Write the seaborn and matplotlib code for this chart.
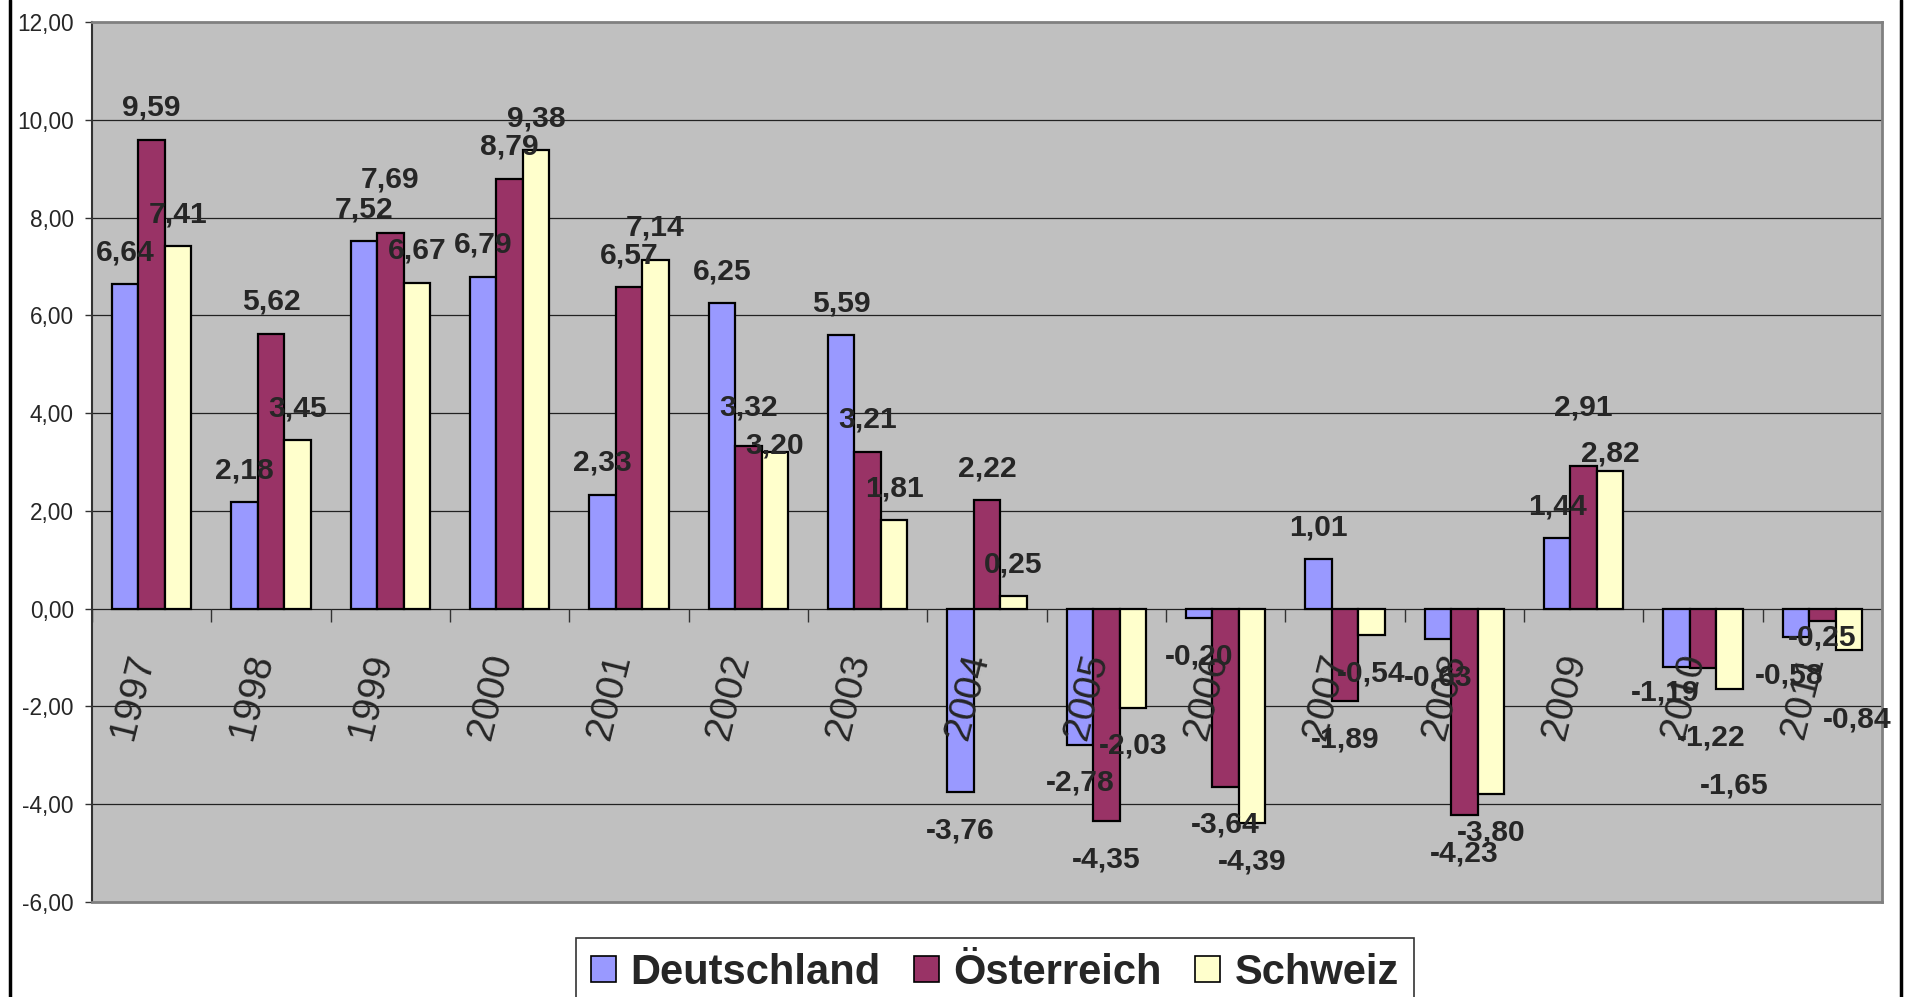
import matplotlib
matplotlib.use("Agg")
import matplotlib.pyplot as plt
import numpy as np
import pandas as pd
import seaborn as sns
from matplotlib.lines import Line2D
from matplotlib.patches import Patch

years = ["1997", "1998", "1999", "2000", "2001", "2002", "2003", "2004",
         "2005", "2006", "2007", "2008", "2009", "2010", "2011"]
countries = ["Deutschland", "Österreich", "Schweiz"]
deutschland = [6.64, 2.18, 7.52, 6.79, 2.33, 6.25, 5.59, -3.76,
               -2.78, -0.20, 1.01, -0.63, 1.44, -1.19, -0.58]
oesterreich = [9.59, 5.62, 7.69, 8.79, 6.57, 3.32, 3.21, 2.22,
               -4.35, -3.64, -1.89, -4.23, 2.91, -1.22, -0.25]
schweiz = [7.41, 3.45, 6.67, 9.38, 7.14, 3.20, 1.81, 0.25,
           -2.03, -4.39, -0.54, -3.80, 2.82, -1.65, -0.84]
y_ticks = [-6, -4, -2, 0, 2, 4, 6, 8, 10, 12]

colors = ["#9999FF", "#993366", "#FFFFCC"]
series = [deutschland, oesterreich, schweiz]

# labels the original chart shifted to dodge each other (dx, dy in pixels, dy down)
label_nudge = {
    ("Österreich", "1999"): (0, -21),
    ("Österreich", "2002"): (0, -7),
    ("Schweiz", "2002"): (0, 25),
    ("Österreich", "2009"): (0, -27),
    ("Schweiz", "2009"): (0, 15),
    ("Deutschland", "2010"): (-11, -12),
    ("Österreich", "2010"): (8, 31),
    ("Schweiz", "2010"): (5, 58),
    ("Deutschland", "2011"): (-7, 0),
    ("Österreich", "2011"): (0, -21),
    ("Schweiz", "2011"): (8, 32),
}

df = pd.DataFrame({
    "year": years * 3,
    "country": np.repeat(countries, len(years)),
    "value": deutschland + oesterreich + schweiz,
})


def de_fmt(v):
    return f"{v:.2f}".replace(".", ",")


sns.set_style("white")
plt.rcParams["font.family"] = ["Liberation Sans", "DejaVu Sans"]

fig = plt.figure(figsize=(19.05, 9.97), dpi=100)
ax = fig.add_axes([92 / 1905, 1 - 902 / 997, 1790 / 1905, 880 / 997])
ax.set_facecolor("#C0C0C0")

sns.barplot(
    data=df, x="year", y="value", hue="country", palette=colors,
    width=0.667, saturation=1, edgecolor="black", linewidth=1.6,
    legend=False, ax=ax, zorder=3,
)

ax.set_xlim(-0.5, len(years) - 0.5)
ax.set_ylim(-6, 12)
ax.set_yticks(y_ticks)
ax.set_yticklabels([de_fmt(t) for t in y_ticks], fontsize=16.3)
ax.tick_params(axis="y", direction="out", length=5, width=1, color="#333333",
               pad=8, left=True)
ax.set_xticks([])
ax.set_xlabel("")
ax.set_ylabel("")

# gridlines
for t in y_ticks[1:-1]:
    ax.axhline(t, color="#222222", lw=0.9, zorder=1)

# category axis ticks at the boundaries, hanging below zero
bounds = np.arange(len(years) + 1) - 0.5
ax.vlines(bounds, -0.27, 0, color="#333333", lw=1, zorder=2)

for name in ["top", "right", "bottom"]:
    ax.spines[name].set_color("#808080")
    ax.spines[name].set_linewidth(2)
ax.spines["left"].set_color("#333333")
ax.spines["left"].set_linewidth(1.5)

# year labels
for i, y in enumerate(years):
    ax.text(i - 0.16, -1.8, y, rotation=76, ha="center", va="center",
            fontsize=28, zorder=6)

# data labels
for cont, vals, country in zip(ax.containers, series, countries):
    for bar, v, year in zip(cont, vals, years):
        cx = bar.get_x() + bar.get_width() / 2
        off = 24 if v >= 0 else -46
        dx, dy = label_nudge.get((country, year), (0, 0))
        ax.annotate(de_fmt(v), (cx, v), xytext=(dx, off - dy),
                    textcoords="offset pixels", ha="center", va="baseline",
                    fontsize=21.6, fontweight="bold", zorder=7)

handles = [Patch(facecolor=c, edgecolor="black", lw=1.2, label=n)
           for c, n in zip(colors, countries)]
leg = fig.legend(handles=handles, loc="upper center", ncol=3,
                 bbox_to_anchor=(995 / 1905, 1 - 938 / 997),
                 prop={"size": 30, "weight": "bold"}, frameon=True,
                 fancybox=False, edgecolor="black", handlelength=0.6,
                 handleheight=0.6, handletextpad=0.35, columnspacing=0.8,
                 borderpad=0.35, borderaxespad=0)
leg.get_frame().set_linewidth(1.2)

# outer chart border (cut off at top and bottom)
fig.add_artist(Line2D([10 / 1905, 10 / 1905], [0, 1], color="black", lw=2.5))
fig.add_artist(Line2D([1901 / 1905, 1901 / 1905], [0, 1], color="black", lw=2.5))

fig.savefig("out.png", dpi=100, facecolor="white")
